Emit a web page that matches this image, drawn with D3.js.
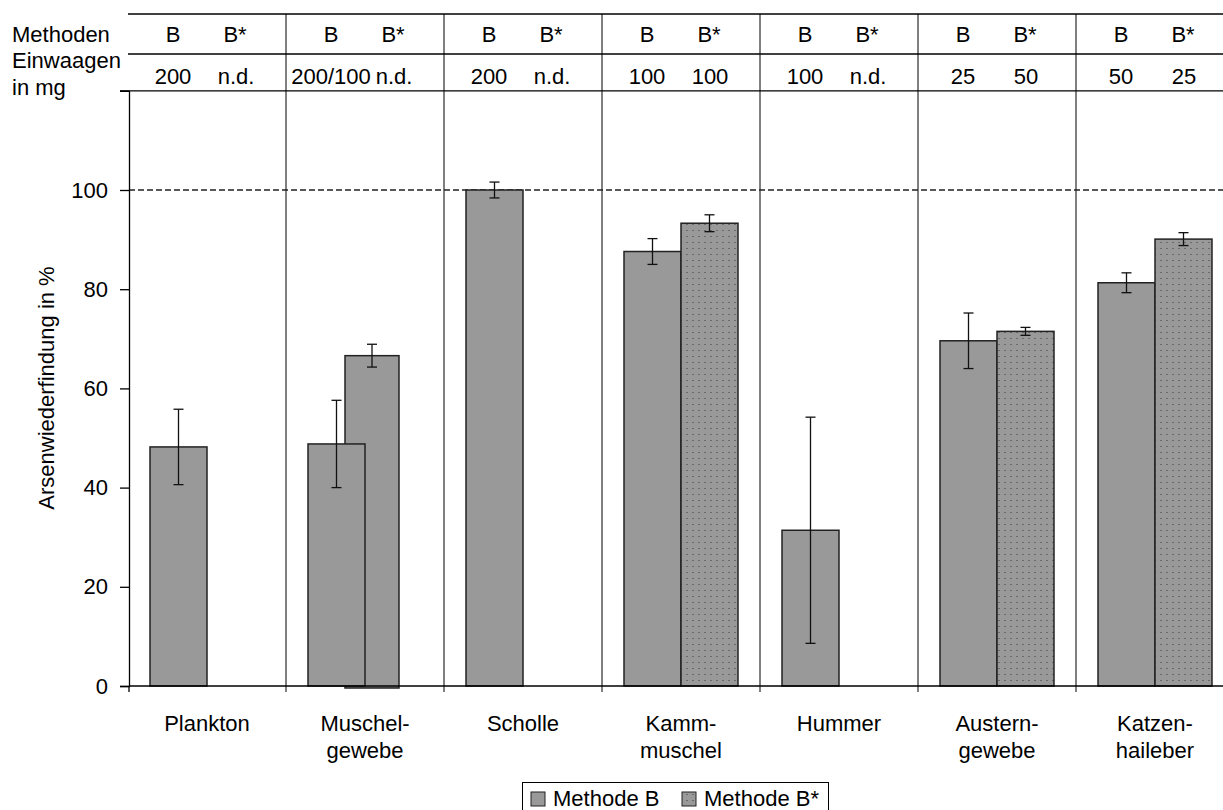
<!DOCTYPE html>
<html>
<head>
<meta charset="utf-8">
<script src="https://cdn.jsdelivr.net/npm/d3@7"></script>
<style>
  html, body { margin: 0; padding: 0; background: #fff; }
  svg { display: block; font-family: Arial, "Liberation Sans", sans-serif; }
</style>
</head>
<body>
<svg id="chart"></svg>
<script>
// Proben und Werte
const categories = ["Plankton", "Muschelgewebe", "Scholle", "Kammmuschel", "Hummer", "Austerngewebe", "Katzenhaileber"];
const categoryLines = [["Plankton"], ["Muschel-", "gewebe"], ["Scholle"], ["Kamm-", "muschel"], ["Hummer"], ["Austern-", "gewebe"], ["Katzen-", "haileber"]];
const methodB = [48.2, 48.8, 100, 87.6, 31.4, 69.6, 81.3];
const errB = [7.6, 8.8, 1.6, 2.6, 22.8, 5.6, 2.0];
const methodBStar = [null, 66.6, null, 93.3, null, 71.5, 90.1];
const errBStar = [null, 2.3, null, 1.7, null, 0.8, 1.3];
const einwaageB = ["200", "200/100", "200", "100", "100", "25", "50"];
const einwaageBStar = ["n.d.", "n.d.", "n.d.", "100", "n.d.", "50", "25"];
const yTicks = [0, 20, 40, 60, 80, 100, 120];
const seriesNames = ["Methode B", "Methode B*"];

const width = 1223, height = 810;
const fontSize = 22;
const fill = "#999999";

const svg = d3.select("#chart").attr("width", width).attr("height", height);

// dot pattern for B*
const defs = svg.append("defs");
const pat = defs.append("pattern")
  .attr("id", "dots")
  .attr("patternUnits", "userSpaceOnUse")
  .attr("width", 6).attr("height", 6);
pat.append("rect").attr("width", 6).attr("height", 6).attr("fill", fill);
pat.append("rect").attr("x", 2).attr("y", 2).attr("width", 2).attr("height", 1).attr("fill", "#6a6a6a");

const x = d3.scaleBand().domain(categories).range([128, 1234]).padding(0);
const inner = d3.scaleBand().domain(["B", "B*"]).range([0, x.bandwidth()]).paddingOuter(0.386).paddingInner(0);
const y = d3.scaleLinear().domain([0, 120]).range([686, 90.8]);

const tableTop = 14, tableMid = 54, tableBottom = y(120);

// header table lines
svg.append("g").selectAll("line")
  .data([tableTop, tableMid, tableBottom])
  .join("line")
  .attr("x1", (d, i) => i === 2 ? 120 : 128)
  .attr("x2", width)
  .attr("y1", d => d).attr("y2", d => d)
  .attr("stroke", "#000").attr("stroke-width", 1.3);

// vertical dividers between categories (down through the axis)
svg.append("g").selectAll("line")
  .data(categories.slice(1))
  .join("line")
  .attr("x1", d => x(d)).attr("x2", d => x(d))
  .attr("y1", tableTop).attr("y2", y(0) + 6)
  .attr("stroke", "#000").attr("stroke-width", 1);

// left header texts
const hdr = svg.append("g").attr("font-size", fontSize).attr("fill", "#000");
hdr.append("text").attr("x", 12).attr("y", 42).text("Methoden");
hdr.append("text").attr("x", 12).attr("y", 68).text("Einwaagen");
hdr.append("text").attr("x", 12).attr("y", 95).text("in mg");

// header cells
categories.forEach((c, i) => {
  const cx = x(c) + x.bandwidth() / 2;
  hdr.append("text").attr("x", cx - 34).attr("y", 42).attr("text-anchor", "middle").text("B");
  hdr.append("text").attr("x", cx + 28).attr("y", 42).attr("text-anchor", "middle").text("B*");
  hdr.append("text").attr("x", cx - 34).attr("y", 84).attr("text-anchor", "middle").text(einwaageB[i]);
  hdr.append("text").attr("x", cx + 29).attr("y", 84).attr("text-anchor", "middle").text(einwaageBStar[i]);
});

// 100 % reference line
svg.append("line")
  .attr("x1", 129).attr("x2", width)
  .attr("y1", y(100)).attr("y2", y(100))
  .attr("stroke", "#222").attr("stroke-width", 1.4)
  .attr("stroke-dasharray", "6,3");

const barsG = svg.append("g");

function drawErr(cx, v, e) {
  const g = barsG.append("g").attr("stroke", "#111").attr("stroke-width", 1.3);
  g.append("line").attr("x1", cx).attr("x2", cx).attr("y1", y(v + e)).attr("y2", y(v - e));
  g.append("line").attr("x1", cx - 5).attr("x2", cx + 5).attr("y1", y(v + e)).attr("y2", y(v + e));
  g.append("line").attr("x1", cx - 5).attr("x2", cx + 5).attr("y1", y(v - e)).attr("y2", y(v - e));
}

// Muschelgewebe B* is drawn offset and behind B in the original
const shiftedIdx = 1;
categories.forEach((c, i) => {
  if (i !== shiftedIdx || methodBStar[i] == null) return;
  const x0 = x(c) + inner("B*") - 20;
  barsG.append("rect")
    .attr("x", x0).attr("y", y(methodBStar[i]))
    .attr("width", inner.bandwidth() - 3)
    .attr("height", y(0) - y(methodBStar[i]) + 2)
    .attr("fill", fill).attr("stroke", "#222").attr("stroke-width", 1.5);
  const ex = x0 + (inner.bandwidth() - 3) / 2;
  drawErr(ex, methodBStar[i], errBStar[i]);
});

// B bars
barsG.selectAll("rect.b")
  .data(categories.map((c, i) => ({ c, v: methodB[i] })))
  .join("rect")
  .attr("class", "b")
  .attr("x", d => x(d.c) + inner("B"))
  .attr("y", d => y(d.v))
  .attr("width", inner.bandwidth())
  .attr("height", d => y(0) - y(d.v))
  .attr("fill", fill).attr("stroke", "#222").attr("stroke-width", 1.5);

// B* bars
barsG.selectAll("rect.bs")
  .data(categories.map((c, i) => ({ c, i, v: methodBStar[i] })).filter(d => d.v != null && d.i !== shiftedIdx))
  .join("rect")
  .attr("class", "bs")
  .attr("x", d => x(d.c) + inner("B*"))
  .attr("y", d => y(d.v))
  .attr("width", inner.bandwidth())
  .attr("height", d => y(0) - y(d.v))
  .attr("fill", "url(#dots)").attr("stroke", "#222").attr("stroke-width", 1.5);

categories.forEach((c, i) => {
  drawErr(x(c) + inner("B") + inner.bandwidth() / 2, methodB[i], errB[i]);
  if (methodBStar[i] != null && i !== shiftedIdx)
    drawErr(x(c) + inner("B*") + inner.bandwidth() / 2, methodBStar[i], errBStar[i]);
});

// x axis line + ticks
svg.append("line")
  .attr("x1", 129).attr("x2", width)
  .attr("y1", y(0)).attr("y2", y(0))
  .attr("stroke", "#000").attr("stroke-width", 1.3);
svg.append("line")
  .attr("x1", 129).attr("x2", 129)
  .attr("y1", y(0)).attr("y2", y(0) + 6)
  .attr("stroke", "#000").attr("stroke-width", 1.3);

// y axis
const yAxis = svg.append("g")
  .attr("transform", "translate(129,0)")
  .call(d3.axisLeft(y).tickValues(yTicks).tickSize(9).tickPadding(12)
    .tickFormat(d => d === 120 ? "" : d));
yAxis.select(".domain").attr("stroke", "#000").attr("stroke-width", 1.3);
yAxis.selectAll(".tick line").attr("stroke", "#000").attr("stroke-width", 1.3);
yAxis.selectAll(".tick text")
  .attr("font-size", fontSize).attr("font-family", "Arial, 'Liberation Sans', sans-serif")
  .attr("fill", "#000");

// y label
svg.append("text")
  .attr("transform", `translate(54,388) rotate(-90)`)
  .attr("text-anchor", "middle")
  .attr("font-size", fontSize)
  .text("Arsenwiederfindung in %");

// category labels
const catG = svg.append("g").attr("font-size", fontSize).attr("text-anchor", "middle");
categories.forEach((c, i) => {
  const t = catG.append("text")
    .attr("x", x(c) + x.bandwidth() / 2)
    .attr("y", 731);
  categoryLines[i].forEach((ln, k) => {
    t.append("tspan").attr("x", x(c) + x.bandwidth() / 2).attr("dy", k === 0 ? 0 : 27).text(ln);
  });
});

// legend
const leg = svg.append("g");
leg.append("rect")
  .attr("x", 522.5).attr("y", 782.5).attr("width", 306).attr("height", 40)
  .attr("fill", "#fff").attr("stroke", "#000").attr("stroke-width", 1);
const legX = [531, 682];
seriesNames.forEach((s, i) => {
  leg.append("rect")
    .attr("x", legX[i]).attr("y", 792).attr("width", 14).attr("height", 14)
    .attr("fill", i === 0 ? fill : "url(#dots)").attr("stroke", "#222").attr("stroke-width", 1);
  leg.append("text")
    .attr("x", legX[i] + 22).attr("y", 806)
    .attr("font-size", fontSize).text(s);
});
</script>
</body>
</html>
